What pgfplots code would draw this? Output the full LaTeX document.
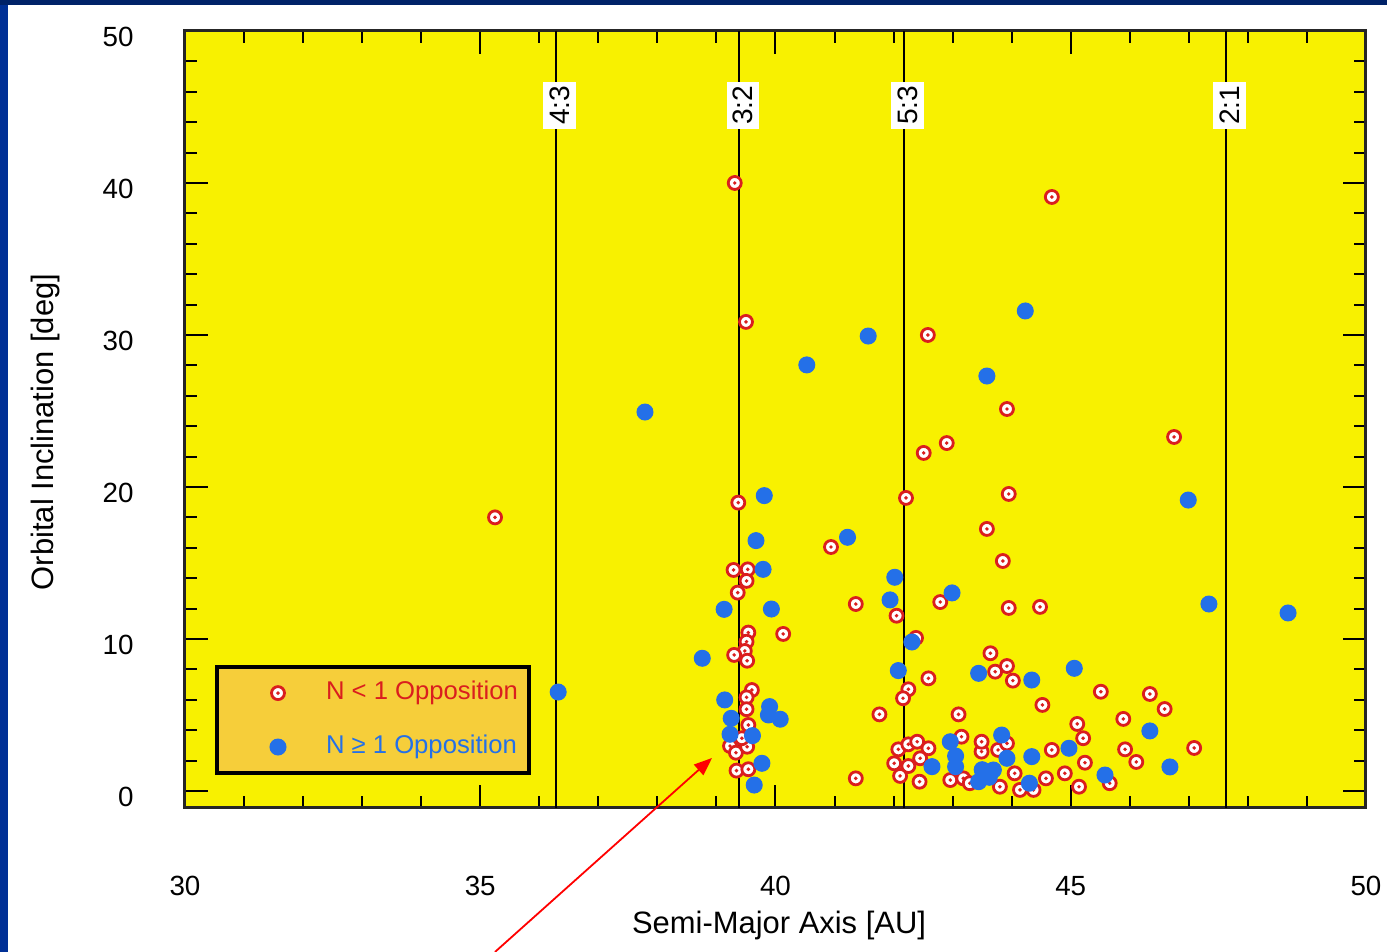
\documentclass[border=0pt]{standalone}
\usepackage{pgfplots}
\pgfplotsset{compat=1.18}
\usepackage{fontspec}
\setmainfont{Liberation Sans}
\usetikzlibrary{arrows.meta}
\definecolor{yyellow}{RGB}{248,241,0}
\definecolor{legfill}{RGB}{246,206,58}
\definecolor{mred}{RGB}{218,30,30}
\definecolor{mblue}{RGB}{36,112,232}
\definecolor{navy}{RGB}{0,34,104}
\definecolor{sideblue}{RGB}{0,48,150}
\pgfdeclareplotmark{cdot}{%
  \pgfpathcircle{\pgfpointorigin}{\pgfplotmarksize}%
  \pgfusepathqfillstroke
  \pgfscope
  \pgfsetfillcolor{mred}%
  \pgfpathcircle{\pgfpointorigin}{0.3\pgfplotmarksize}%
  \pgfusepathqfill
  \endpgfscope
}
\begin{document}
\begin{tikzpicture}
\useasboundingbox (0,0) rectangle (138.7mm,95.2mm);
\fill[white] (0,0) rectangle (138.7mm,95.2mm);
\fill[sideblue] (0,0) rectangle (0.8mm,95.2mm);
\fill[navy] (0,94.7mm) rectangle (138.7mm,95.2mm);
\begin{axis}[
  at={(18.5mm,14.4mm)}, anchor=south west,
  scale only axis, width=118.1mm, height=77.7mm,
  xmin=30, xmax=50, ymin=-1.12, ymax=50,
  xtick={30,35,...,50}, ytick={0,10,...,50},
  minor x tick num=4, minor y tick num=4,
  tick pos=both, xticklabel pos=lower, yticklabel pos=left,
  tick align=inside, major tick length=2.3mm, minor tick length=1.2mm,
  every tick/.style={black, line width=0.2mm},
  axis line style={line width=0.3mm, black!85},
  axis background/.style={fill=yyellow},
  /pgf/number format/assume math mode=true,
  ticklabel style={font=\fontsize{7.9}{9}\selectfont},
  yticklabel style={xshift=-3.9mm, yshift=-0.6mm},
  xticklabel style={yshift=-5.6mm},
  xlabel={Semi-Major Axis [AU]},
  ylabel={Orbital Inclination [deg]},
  label style={font=\fontsize{8.8}{10}\selectfont},
  xlabel style={at={(axis description cs:0.503,-0.1506)}, anchor=center},
  ylabel style={at={(axis description cs:-0.1185,0.484)}, anchor=center},
  clip=false,
  legend image code/.code={%
    \path (-5.5mm,0mm) (3.9mm,0mm);
    \draw[#1] plot coordinates {(0mm,0mm)};},
  legend cell align=left,
  legend style={at={(axis description cs:0.0254,0.0425)}, anchor=south west,
    fill=legfill, draw=black, line width=0.4mm,
    font=\fontsize{7.3}{8.5}\selectfont,
    inner xsep=0.4mm, inner ysep=0.7mm,
    /tikz/every even column/.append style={column sep=0mm},
    row sep=1.6mm},
]
% resonance lines
\addplot[black, line width=0.2mm, forget plot] coordinates {(36.28,-1.12) (36.28,50)};
\addplot[black, line width=0.2mm, forget plot] coordinates {(39.39,-1.12) (39.39,50)};
\addplot[black, line width=0.2mm, forget plot] coordinates {(42.18,-1.12) (42.18,50)};
\addplot[black, line width=0.2mm, forget plot] coordinates {(47.63,-1.12) (47.63,50)};
\node[xshift=0.35mm, rotate=90, fill=white, inner xsep=0.4mm, inner ysep=0.65mm, font=\fontsize{8}{9}\selectfont] at (axis cs:36.28,45.1) {4:3};
\node[xshift=0.35mm, rotate=90, fill=white, inner xsep=0.4mm, inner ysep=0.65mm, font=\fontsize{8}{9}\selectfont] at (axis cs:39.39,45.1) {3:2};
\node[xshift=0.35mm, rotate=90, fill=white, inner xsep=0.4mm, inner ysep=0.65mm, font=\fontsize{8}{9}\selectfont] at (axis cs:42.18,45.1) {5:3};
\node[xshift=0.35mm, rotate=90, fill=white, inner xsep=0.4mm, inner ysep=0.65mm, font=\fontsize{8}{9}\selectfont] at (axis cs:47.63,45.1) {2:1};
% N < 1 opposition
\addplot[only marks, mark=cdot, mark size=0.65mm, mark options={draw=mred, fill=white, line width=0.28mm}] table {
x y
35.25 18.0
39.31 40.0
39.50 30.86
39.37 18.97
40.94 16.05
39.29 14.54
39.53 14.58
39.51 13.82
39.36 13.05
42.05 11.53
41.36 12.30
40.13 10.33
39.54 10.42
39.51 9.82
39.48 9.21
39.30 8.95
39.52 8.57
39.60 6.64
39.51 6.16
39.51 5.38
39.54 4.34
41.76 5.04
39.23 2.96
39.33 2.52
39.52 2.91
39.43 3.47
39.34 1.34
39.54 1.43
41.36 0.83
42.58 30.0
44.68 39.08
43.92 25.13
42.90 22.89
42.51 22.24
46.75 23.29
42.21 19.28
43.95 19.54
43.58 17.24
43.85 15.13
42.79 12.43
43.95 12.04
44.48 12.11
42.38 10.07
43.64 9.06
43.92 8.22
43.72 7.85
44.02 7.26
42.59 7.41
42.25 6.69
42.16 6.10
45.51 6.53
46.34 6.38
46.59 5.39
44.52 5.66
43.10 5.04
45.11 4.41
45.89 4.74
45.21 3.47
45.92 2.74
46.11 1.91
47.09 2.83
44.68 2.70
45.24 1.86
45.66 0.51
44.90 1.16
45.14 0.28
44.58 0.83
44.14 0.07
44.37 0.07
42.01 1.82
42.08 2.74
42.25 3.07
42.40 3.24
42.59 2.81
42.45 2.15
42.25 1.64
42.11 0.99
42.44 0.61
43.15 3.57
42.96 0.72
43.18 0.83
43.29 0.51
43.49 2.59
43.49 3.24
43.77 2.70
43.92 3.13
43.80 0.28
44.05 1.16
};
\addlegendentry{\textcolor{mred}{N < 1 Opposition}}
% N >= 1 opposition
\addplot[only marks, mark=*, mark size=0.8mm, mark options={draw=mblue, fill=mblue, line width=0.1mm}] table {
x y
36.32 6.51
37.79 24.93
40.53 28.03
41.57 29.93
44.23 31.58
43.58 27.3
46.99 19.14
39.81 19.43
39.67 16.47
41.22 16.69
39.79 14.58
42.02 14.06
41.94 12.57
39.13 11.95
39.93 11.97
42.99 13.03
47.34 12.30
48.68 11.71
42.31 9.80
38.76 8.73
42.08 7.92
45.06 8.07
43.44 7.74
44.34 7.30
39.14 5.99
39.90 5.55
40.08 4.72
39.88 5.00
39.25 4.78
39.23 3.73
39.61 3.64
39.77 1.82
39.64 0.39
46.34 3.95
46.68 1.58
44.97 2.81
45.58 1.05
42.65 1.60
42.96 3.24
43.05 2.30
43.05 1.60
43.55 1.16
43.44 0.61
43.69 1.38
43.50 1.40
43.62 0.90
43.83 3.68
43.92 2.15
44.34 2.26
44.30 0.51
};
\addlegendentry{\textcolor{mblue}{N ≥ 1 Opposition}}
\draw[red, line width=0.18mm, -{Triangle[length=1.8mm,width=1.4mm]}] (axis cs:35.25,-10.59) -- (axis cs:38.925,2.17);
\end{axis}
\end{tikzpicture}
\end{document}
